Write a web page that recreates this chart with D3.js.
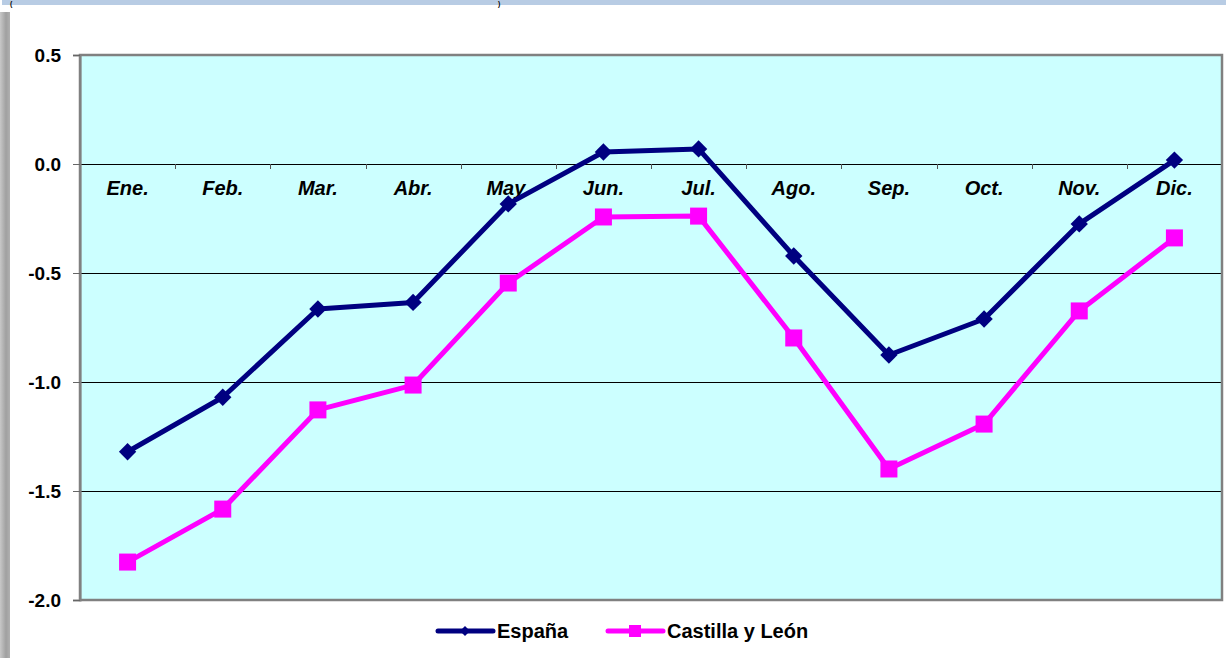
<!DOCTYPE html>
<html>
<head>
<meta charset="utf-8">
<script src="https://cdn.jsdelivr.net/npm/d3@7"></script>
<style>
  body { margin: 0; background: #fff; }
  svg { display: block; font-family: Arial, "Liberation Sans", sans-serif; }
</style>
</head>
<body>
<div id="chart"></div>
<script>
(function () {
    // data
    var months = ["Ene.", "Feb.", "Mar.", "Abr.", "May.", "Jun.", "Jul.", "Ago.", "Sep.", "Oct.", "Nov.", "Dic."]
    var espana = [-1.32, -1.07, -0.665, -0.635, -0.183, 0.055, 0.069, -0.422, -0.876, -0.711, -0.275, 0.018]
    var castilla = [-1.826, -1.583, -1.128, -1.014, -0.546, -0.243, -0.239, -0.798, -1.399, -1.193, -0.674, -0.339]
    var yTicks = [0.5, 0.0, -0.5, -1.0, -1.5, -2.0]
    var seriesNames = ["España", "Castilla y León"]

    var width = 1226
    var height = 658
    var left = 80, right = 1222, top = 55, bottom = 600
    var font = "Arial, 'Liberation Sans', sans-serif"

    var svg = d3.select("#chart")
        .append("svg")
        .attr("width", width)
        .attr("height", height)

    // top band and left gray strip (what is left of the page around the chart)
    svg.append("rect").attr("x", 2).attr("y", 0).attr("width", width).attr("height", 5).attr("fill", "#b8cce4")
    svg.append("text").attr("x", 10).attr("y", 6).attr("font-size", 7).attr("font-weight", "bold").text("(")
    svg.append("text").attr("x", 498).attr("y", 6).attr("font-size", 7).attr("font-weight", "bold").text(")")
    var grad = svg.append("defs").append("linearGradient").attr("id", "lg")
    grad.append("stop").attr("offset", "0%").attr("stop-color", "#c8c8c8")
    grad.append("stop").attr("offset", "60%").attr("stop-color", "#a0a0a0")
    grad.append("stop").attr("offset", "100%").attr("stop-color", "#b0b0b0")
    svg.append("rect").attr("x", 0).attr("y", 12).attr("width", 10).attr("height", height - 12).attr("fill", "url(#lg)")

    var x = d3.scaleBand().domain(months).range([left, right])
    var y = d3.scaleLinear().domain([-2, 0.5]).range([bottom, top])

    // plot background
    svg.append("rect")
        .attr("x", left).attr("y", top)
        .attr("width", right - left).attr("height", bottom - top)
        .attr("fill", "#ccffff")

    // gridlines
    svg.selectAll("grid")
        .data(yTicks.filter(function (d) { return d > -2 && d < 0.5 }))
        .enter()
        .append("line")
        .attr("x1", left).attr("x2", right)
        .attr("y1", function (d) { return Math.round(y(d)) + 0.5 }).attr("y2", function (d) { return Math.round(y(d)) + 0.5 })
        .attr("stroke", "#000").attr("stroke-width", 1)

    // plot border
    svg.append("rect")
        .attr("x", left).attr("y", top)
        .attr("width", right - left).attr("height", bottom - top)
        .attr("fill", "none").attr("stroke", "#808080").attr("stroke-width", 2.5)

    // y axis (hyphen minus like the original)
    var yAxis = d3.axisLeft(y).tickValues(yTicks).tickSize(7).tickPadding(12)
        .tickFormat(function (d) { return d.toFixed(1) })
    var ya = svg.append("g").attr("transform", "translate(" + left + ",0)").call(yAxis)
    ya.select(".domain").attr("stroke", "#808080").attr("stroke-width", 2)
    ya.selectAll(".tick line").attr("stroke", "#666")
    ya.selectAll("text").attr("font-size", 19).attr("font-weight", "bold").attr("fill", "#000")
        .attr("font-family", font)

    // category axis on the zero line
    var xAxis = d3.axisBottom(x).tickSize(0).tickPadding(17)
    var xa = svg.append("g").attr("transform", "translate(0," + y(0) + ")").call(xAxis)
    xa.select(".domain").remove()
    xa.selectAll("text").attr("font-size", 20).attr("font-weight", "bold").attr("font-style", "italic")
        .attr("fill", "#000").attr("font-family", font)
    svg.selectAll("xticks")
        .data(months.slice(1))
        .enter()
        .append("line")
        .attr("x1", function (d) { return Math.round(x(d)) + 0.5 }).attr("x2", function (d) { return Math.round(x(d)) + 0.5 })
        .attr("y1", y(0)).attr("y2", y(0) + 5)
        .attr("stroke", "#555").attr("stroke-width", 1)

    var cx = function (d, i) { return x(months[i]) + x.bandwidth() / 2 }
    var line = d3.line().x(cx).y(function (d) { return y(d) })

    // España
    svg.append("path").datum(espana)
        .attr("d", line).attr("fill", "none")
        .attr("stroke", "#000080").attr("stroke-width", 5).attr("stroke-linejoin", "round")
    svg.selectAll("espMarks")
        .data(espana)
        .enter()
        .append("path")
        .attr("d", d3.symbol().type(d3.symbolSquare).size(150))
        .attr("transform", function (d, i) { return "translate(" + cx(d, i) + "," + y(d) + ") rotate(45)" })
        .attr("fill", "#000080")

    // Castilla y León
    svg.append("path").datum(castilla)
        .attr("d", line).attr("fill", "none")
        .attr("stroke", "#ff00ff").attr("stroke-width", 5).attr("stroke-linejoin", "round")
    svg.selectAll("cylMarks")
        .data(castilla)
        .enter()
        .append("rect")
        .attr("x", function (d, i) { return cx(d, i) - 8.5 })
        .attr("y", function (d) { return y(d) - 8.5 })
        .attr("width", 17).attr("height", 17)
        .attr("fill", "#ff00ff")

    // legend
    var lg = svg.append("g")
    var legX = [438, 608]
    var legColors = ["#000080", "#ff00ff"]
    seriesNames.forEach(function (name, i) {
        var lx = legX[i], ly = 631
        lg.append("line").attr("x1", lx).attr("x2", lx + 55).attr("y1", ly).attr("y2", ly)
            .attr("stroke", legColors[i]).attr("stroke-width", 5).attr("stroke-linecap", "round")
        if (i === 0) {
            lg.append("path").attr("d", d3.symbol().type(d3.symbolSquare).size(50))
                .attr("transform", "translate(" + (lx + 27) + "," + ly + ") rotate(45)")
                .attr("fill", legColors[i])
        } else {
            lg.append("rect").attr("x", lx + 27 - 6).attr("y", ly - 6).attr("width", 12).attr("height", 12)
                .attr("fill", legColors[i])
        }
        lg.append("text").attr("x", lx + 59).attr("y", ly + 7)
            .attr("font-size", 20).attr("font-weight", "bold").attr("font-family", font).text(name)
    })
})();
</script>
</body>
</html>
